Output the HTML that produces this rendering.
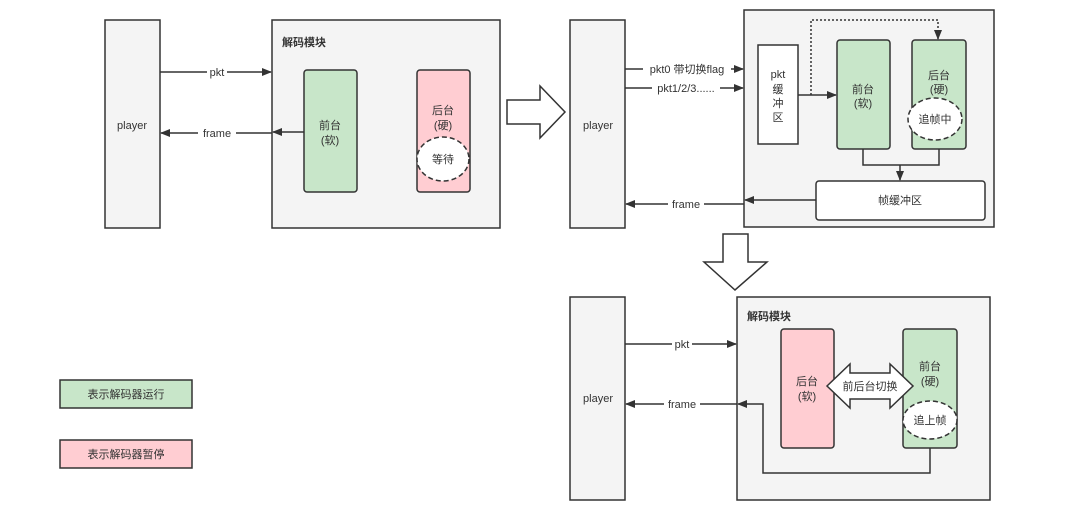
<!DOCTYPE html>
<html><head><meta charset="utf-8"><style>
html,body{margin:0;padding:0;background:#fff;}
svg text{font-family:"Liberation Sans","Noto Sans CJK SC",sans-serif;font-size:11px;fill:#333;}
</style></head><body>
<svg width="1080" height="524" viewBox="0 0 1080 524" xmlns="http://www.w3.org/2000/svg">
<defs>
<marker id="a" markerWidth="10" markerHeight="8" refX="9" refY="4" orient="auto" markerUnits="userSpaceOnUse"><path d="M0,0 L10,4 L0,8 Z" fill="#333"/></marker>
</defs>
<g stroke="#333" stroke-width="1.5" fill="#f4f4f4">
<!-- top-left -->
<rect x="105" y="20" width="55" height="208"/>
<rect x="272" y="20" width="228" height="208"/>
<rect x="304" y="70" width="53" height="122" rx="3" fill="#c8e6c9"/>
<rect x="417" y="70" width="53" height="122" rx="3" fill="#ffcdd2"/>
<ellipse cx="443" cy="159" rx="26" ry="22" fill="#fff" stroke-dasharray="5,3"/>
<!-- arrow right -->
<path d="M507,100 L540,100 L540,86 L565,112 L540,138 L540,124 L507,124 Z" fill="#fff"/>
<!-- top-right -->
<rect x="570" y="20" width="55" height="208"/>
<rect x="744" y="10" width="250" height="217"/>
<rect x="758" y="45" width="40" height="99" fill="#fff"/>
<rect x="837" y="40" width="53" height="109" rx="3" fill="#c8e6c9"/>
<rect x="912" y="40" width="54" height="109" rx="3" fill="#c8e6c9"/>
<ellipse cx="935" cy="119" rx="27" ry="21" fill="#fff" stroke-dasharray="5,3"/>
<rect x="816" y="181" width="169" height="39" rx="3" fill="#fff"/>
<!-- arrow down -->
<path d="M723,234 L748,234 L748,262 L767,262 L735,290 L704,262 L723,262 Z" fill="#fff"/>
<!-- bottom -->
<rect x="570" y="297" width="55" height="203"/>
<rect x="737" y="297" width="253" height="203"/>
<rect x="781" y="329" width="53" height="119" rx="3" fill="#ffcdd2"/>
<rect x="903" y="329" width="54" height="119" rx="3" fill="#c8e6c9"/>
<ellipse cx="930" cy="420" rx="27" ry="19" fill="#fff" stroke-dasharray="5,3"/>
<path d="M827,386 L850,364 L850,373 L890,373 L890,364 L913,386 L890,408 L890,399 L850,399 L850,408 Z" fill="#fff"/>
<!-- legend -->
<rect x="60" y="380" width="132" height="28" fill="#c8e6c9"/>
<rect x="60" y="440" width="132" height="28" fill="#ffcdd2"/>
</g>
<g stroke="#333" stroke-width="1.5" fill="none">
<line x1="160" y1="72" x2="271" y2="72" marker-end="url(#a)"/>
<line x1="272" y1="133" x2="161" y2="133" marker-end="url(#a)"/>
<line x1="304" y1="132" x2="273" y2="132" marker-end="url(#a)"/>
<line x1="625" y1="69" x2="743" y2="69" marker-end="url(#a)"/>
<line x1="625" y1="88" x2="743" y2="88" marker-end="url(#a)"/>
<line x1="798" y1="95" x2="836" y2="95" marker-end="url(#a)"/>
<path d="M811,95 L811,20 L938,20 L938,39" stroke-dasharray="2,2" marker-end="url(#a)"/>
<path d="M863,149 L863,165 L939,165 L939,149"/>
<line x1="900" y1="165" x2="900" y2="180" marker-end="url(#a)"/>
<line x1="816" y1="200" x2="745" y2="200" marker-end="url(#a)"/>
<line x1="744" y1="204" x2="626" y2="204" marker-end="url(#a)"/>
<line x1="625" y1="344" x2="736" y2="344" marker-end="url(#a)"/>
<line x1="737" y1="404" x2="626" y2="404" marker-end="url(#a)"/>
<path d="M930,448 L930,473 L763,473 L763,404 L738,404" marker-end="url(#a)"/>
</g>
<g text-anchor="middle">
<text x="132" y="129">player</text>
<rect x="207" y="66" width="20" height="12" fill="#fff"/><text x="217" y="76">pkt</text>
<rect x="198" y="127" width="38" height="12" fill="#fff"/><text x="217" y="137">frame</text>
<text x="330" y="129">前台</text><text x="330" y="144">(软)</text>
<text x="443" y="114">后台</text><text x="443" y="129">(硬)</text>
<text x="443" y="163">等待</text>
<text x="598" y="129">player</text>
<rect x="643" y="63" width="88" height="12" fill="#fff"/><text x="687" y="73">pkt0 带切换flag</text>
<rect x="652" y="82" width="68" height="12" fill="#fff"/><text x="686" y="92">pkt1/2/3......</text>
<text x="778" y="78">pkt</text><text x="778" y="93">缓</text><text x="778" y="107">冲</text><text x="778" y="121">区</text>
<text x="863" y="93">前台</text><text x="863" y="107">(软)</text>
<text x="939" y="79">后台</text><text x="939" y="93">(硬)</text>
<text x="935" y="123">追帧中</text>
<text x="900" y="204">帧缓冲区</text>
<rect x="668" y="198" width="36" height="12" fill="#fff"/><text x="686" y="208">frame</text>
<text x="598" y="402">player</text>
<rect x="672" y="338" width="20" height="12" fill="#fff"/><text x="682" y="348">pkt</text>
<rect x="664" y="398" width="36" height="12" fill="#fff"/><text x="682" y="408">frame</text>
<text x="807" y="385">后台</text><text x="807" y="400">(软)</text>
<text x="930" y="370">前台</text><text x="930" y="385">(硬)</text>
<text x="870" y="390">前后台切换</text>
<text x="930" y="424">追上帧</text>
<text x="126" y="398">表示解码器运行</text>
<text x="126" y="458">表示解码器暂停</text>
</g>
<text x="282" y="46" font-weight="bold">解码模块</text>
<text x="747" y="320" font-weight="bold">解码模块</text>
</svg>
</body></html>
